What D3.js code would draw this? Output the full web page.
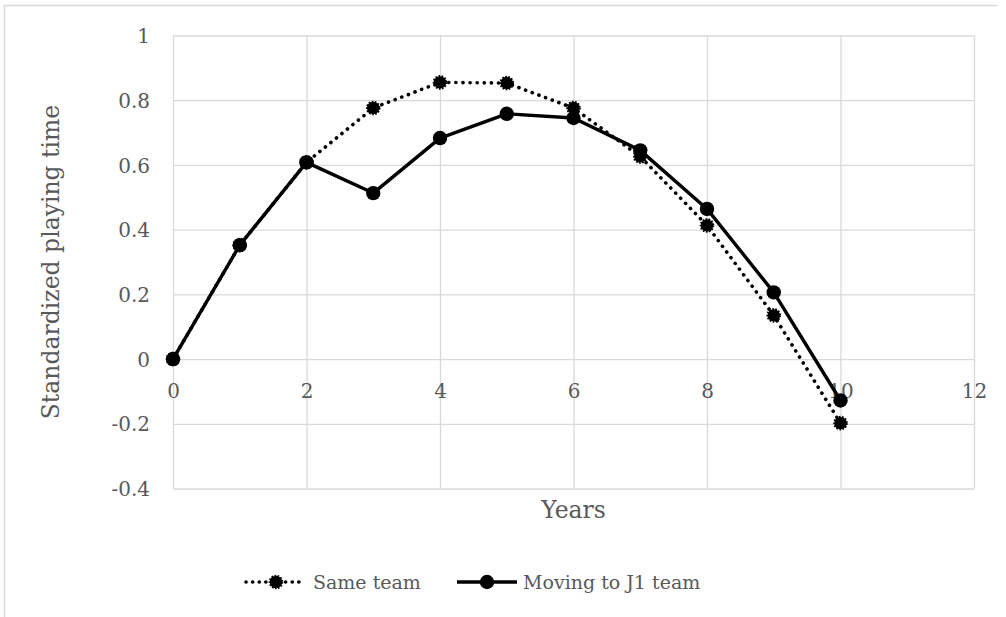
<!DOCTYPE html>
<html>
<head>
<meta charset="utf-8">
<script src="https://cdn.jsdelivr.net/npm/d3@7"></script>
<style>
  html, body { margin: 0; padding: 0; background: #fff; }
  svg { display: block; }
  text { font-family: "DejaVu Serif", "Liberation Serif", serif; fill: #595959; }
</style>
</head>
<body>
<svg id="chart" width="1006" height="617"></svg>
<script>
// Years since joining
const years = [0, 1, 2, 3, 4, 5, 6, 7, 8, 9, 10];
// Standardized playing time per series
const sameTeam = [0, 0.352, 0.608, 0.776, 0.855, 0.853, 0.776, 0.626, 0.413, 0.135, -0.198];
const movingJ1 = [0, 0.352, 0.608, 0.513, 0.683, 0.758, 0.745, 0.645, 0.464, 0.206, -0.128];
const seriesNames = ["Same team", "Moving to J1 team"];
const xTicks = [0, 2, 4, 6, 8, 10, 12];
const yTicks = [-0.4, -0.2, 0, 0.2, 0.4, 0.6, 0.8, 1];
const xTitle = "Years";
const yTitle = "Standardized playing time";

const svg = d3.select("#chart");
const W = 1006, H = 617;
const plot = { left: 173, right: 974, top: 35.5, bottom: 488.5 };

svg.append("rect").attr("width", W).attr("height", H).attr("fill", "#fff");

// chart frame (top and left edges)
svg.append("path")
  .attr("d", `M4.5,${H + 5} V5.5 H997`)
  .attr("fill", "none").attr("stroke", "#d9d9d9").attr("stroke-width", 1.5);

const x = d3.scaleLinear().domain([0, 12]).range([plot.left, plot.right]);
const y = d3.scaleLinear().domain([-0.4, 1]).range([plot.bottom, plot.top]);

const fmt = d => String(+d.toFixed(1));

// horizontal gridlines + y labels
const yAxis = svg.append("g")
  .attr("transform", `translate(${plot.left},0)`)
  .call(d3.axisLeft(y).tickValues(yTicks).tickFormat(fmt)
    .tickSize(-(plot.right - plot.left)).tickPadding(23));
yAxis.select(".domain").remove();
yAxis.selectAll(".tick line").attr("stroke", "#d9d9d9").attr("stroke-width", 1.3);
yAxis.selectAll(".tick text").attr("font-size", 20).attr("fill", "#595959")
  .attr("dy", "0.36em");

// vertical gridlines
const xGrid = svg.append("g")
  .attr("transform", `translate(0,${plot.bottom})`)
  .call(d3.axisBottom(x).tickValues(xTicks).tickFormat("")
    .tickSize(-(plot.bottom - plot.top)));
xGrid.select(".domain").remove();
xGrid.selectAll(".tick line").attr("stroke", "#d9d9d9").attr("stroke-width", 1.3);

// x labels hang below the zero line
const xAxis = svg.append("g")
  .attr("transform", `translate(0,${y(0)})`)
  .call(d3.axisBottom(x).tickValues(xTicks).tickFormat(d3.format("d"))
    .tickSize(0).tickPadding(25));
xAxis.select(".domain").remove();
xAxis.selectAll(".tick text").attr("font-size", 20).attr("fill", "#595959");

// axis titles
svg.append("text")
  .attr("x", (plot.left + plot.right) / 2).attr("y", 518)
  .attr("text-anchor", "middle").attr("font-size", 23.5)
  .text(xTitle);
svg.append("text")
  .attr("transform", `translate(59,${(plot.top + plot.bottom) / 2}) rotate(-90)`)
  .attr("text-anchor", "middle").attr("font-size", 23.5)
  .text(yTitle);

const line = d3.line().x((d, i) => x(years[i])).y(d => y(d));

function dottedMarker(sel, cx, cy) {
  sel.append("circle").attr("cx", cx).attr("cy", cy).attr("r", 6.2)
    .attr("fill", "#000").attr("stroke", "#000").attr("stroke-width", 2.2)
    .attr("stroke-dasharray", "1.6 1.4");
}
function solidMarker(sel, cx, cy) {
  sel.append("circle").attr("cx", cx).attr("cy", cy).attr("r", 7.2)
    .attr("fill", "#000");
}

// Same team: dotted line
const gSame = svg.append("g");
gSame.append("path").datum(sameTeam).attr("d", line)
  .attr("fill", "none").attr("stroke", "#000").attr("stroke-width", 3.6)
  .attr("stroke-linecap", "round").attr("stroke-dasharray", "0.1 7");
sameTeam.forEach((v, i) => dottedMarker(gSame, x(years[i]), y(v)));

// Moving to J1 team: solid line
const gMove = svg.append("g");
gMove.append("path").datum(movingJ1).attr("d", line)
  .attr("fill", "none").attr("stroke", "#000").attr("stroke-width", 3.4)
  .attr("stroke-linejoin", "round");
movingJ1.forEach((v, i) => solidMarker(gMove, x(years[i]), y(v)));

// legend
const ly = 582;
const leg = svg.append("g");
leg.append("line").attr("x1", 246).attr("x2", 304).attr("y1", ly).attr("y2", ly)
  .attr("stroke", "#000").attr("stroke-width", 3.6).attr("stroke-linecap", "round")
  .attr("stroke-dasharray", "0.1 6.5");
dottedMarker(leg, 276, ly);
leg.append("text").attr("x", 313).attr("y", ly).attr("dy", "0.35em")
  .attr("font-size", 19).text(seriesNames[0]);
leg.append("line").attr("x1", 457).attr("x2", 517).attr("y1", ly).attr("y2", ly)
  .attr("stroke", "#000").attr("stroke-width", 3.4);
solidMarker(leg, 487, ly);
leg.append("text").attr("x", 523).attr("y", ly).attr("dy", "0.35em")
  .attr("font-size", 19).text(seriesNames[1]);
</script>
</body>
</html>
